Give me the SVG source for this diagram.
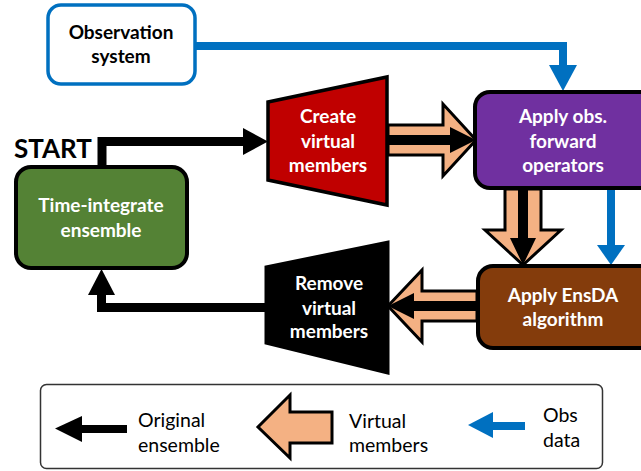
<svg xmlns="http://www.w3.org/2000/svg" width="641" height="471" viewBox="0 0 641 471">
<style>
  .lbl { font-family: Lato, "Open Sans", "Liberation Sans", sans-serif; font-weight: bold; font-size: 19px; text-anchor: middle; }
  .w { fill: #FFFFFF; }
  .k { fill: #000000; }
  .leg { font-family: Lato, "Open Sans", "Liberation Sans", sans-serif; font-size: 19.5px; fill: #000000; }
  .box { stroke: #000000; stroke-width: 4; }
  .virt { fill: #F4B183; stroke: #000000; stroke-width: 3; stroke-linejoin: miter; }
  .blk { fill: none; stroke: #000000; stroke-width: 9; }
  .blue { fill: none; stroke: #0070C0; stroke-width: 8; }
</style>
<rect width="641" height="471" fill="#FFFFFF"/>

<g id="connectors">
  <!-- observation data -->
  <path class="blue" d="M195,46 H563 V67"/>
  <polygon points="549,65 577,65 563,91" fill="#0070C0"/>
  <path class="blue" d="M611,189 V246"/>
  <polygon points="597,245 625,245 611,265" fill="#0070C0"/>
  <!-- original ensemble -->
  <path class="blk" d="M102,167 V141.5 H245"/>
  <polygon points="243,128 243,155 268,141.5" fill="#000000"/>
  <path class="blk" d="M267,307.5 H101.5 V293"/>
  <polygon points="88,295 115,295 101.5,269" fill="#000000"/>
  <!-- virtual members: create -> apply obs -->
  <path class="virt" d="M388,125 H443 V104 L476,140 L443,176 V155 H388 Z"/>
  <path d="M388,135 H450 V127 L476,140 L450,153 V145 H388 Z" fill="#000000"/>
  <!-- virtual members: apply obs -> EnsDA -->
  <path class="virt" d="M505,189 V230 H485 L523,265 L561,230 H541 V189 Z"/>
  <path d="M518,189 V238 H510 L523,265 L536,238 H528 V189 Z" fill="#000000"/>
  <!-- virtual members: EnsDA -> remove -->
  <path class="virt" d="M477,291 H422 V270 L388,306 L422,342 V321 H477 Z"/>
  <path d="M477,301 H414 V293 L388,306 L414,319 V311 H477 Z" fill="#000000"/>
</g>

<g id="observation-system">
  <rect x="48" y="5" width="147" height="79" rx="13" fill="#FFFFFF" stroke="#0070C0" stroke-width="3.5"/>
  <text class="lbl k" x="121" y="39">Observation</text>
  <text class="lbl k" x="121" y="63">system</text>
</g>

<g id="start">
  <text x="14" y="158" font-family="Lato, 'Open Sans', 'Liberation Sans', sans-serif" font-weight="bold" font-size="26" fill="#000000">START</text>
</g>

<g id="time-integrate">
  <rect class="box" x="16" y="167" width="171" height="101" rx="15" fill="#548235"/>
  <text class="lbl w" x="101" y="212">Time-integrate</text>
  <text class="lbl w" x="101" y="237">ensemble</text>
</g>

<g id="create-virtual">
  <polygon points="268,102 387,77 387,205 268,180" fill="#C00000" stroke="#000000" stroke-width="3.5" stroke-linejoin="miter"/>
  <text class="lbl w" x="328" y="123">Create</text>
  <text class="lbl w" x="328" y="148">virtual</text>
  <text class="lbl w" x="328" y="172">members</text>
</g>

<g id="apply-obs">
  <rect class="box" x="475" y="92" width="190" height="96" rx="15" fill="#7030A0"/>
  <text class="lbl w" x="563" y="123">Apply obs.</text>
  <text class="lbl w" x="563" y="148">forward</text>
  <text class="lbl w" x="563" y="172">operators</text>
</g>

<g id="apply-ensda">
  <rect class="box" x="478" y="266" width="190" height="82" rx="15" fill="#843C0C"/>
  <text class="lbl w" x="563" y="302">Apply EnsDA</text>
  <text class="lbl w" x="563" y="326">algorithm</text>
</g>

<g id="remove-virtual">
  <polygon points="266,267 388,242 388,373 266,343" fill="#000000" stroke="#000000" stroke-width="3"/>
  <text class="lbl w" x="329" y="290">Remove</text>
  <text class="lbl w" x="329" y="315">virtual</text>
  <text class="lbl w" x="329" y="338">members</text>
</g>

<g id="legend">
  <rect x="40.5" y="384.5" width="562" height="84" rx="6" fill="#FFFFFF" stroke="#333333" stroke-width="1.5"/>
  <path d="M127,429 H80" stroke="#000000" stroke-width="8" fill="none"/>
  <polygon points="82,416 82,442 55,428.5" fill="#000000"/>
  <text class="leg" x="138" y="427">Original</text>
  <text class="leg" x="138" y="452">ensemble</text>
  <path class="virt" d="M332,412 H290 V395 L258,427 L290,458 V443 H332 Z"/>
  <text class="leg" x="349" y="428">Virtual</text>
  <text class="leg" x="349" y="452">members</text>
  <path d="M525,426 H491" stroke="#0070C0" stroke-width="8" fill="none"/>
  <polygon points="493,412 493,438 468,425" fill="#0070C0"/>
  <text class="leg" x="543" y="422">Obs</text>
  <text class="leg" x="543" y="447">data</text>
</g>
</svg>
